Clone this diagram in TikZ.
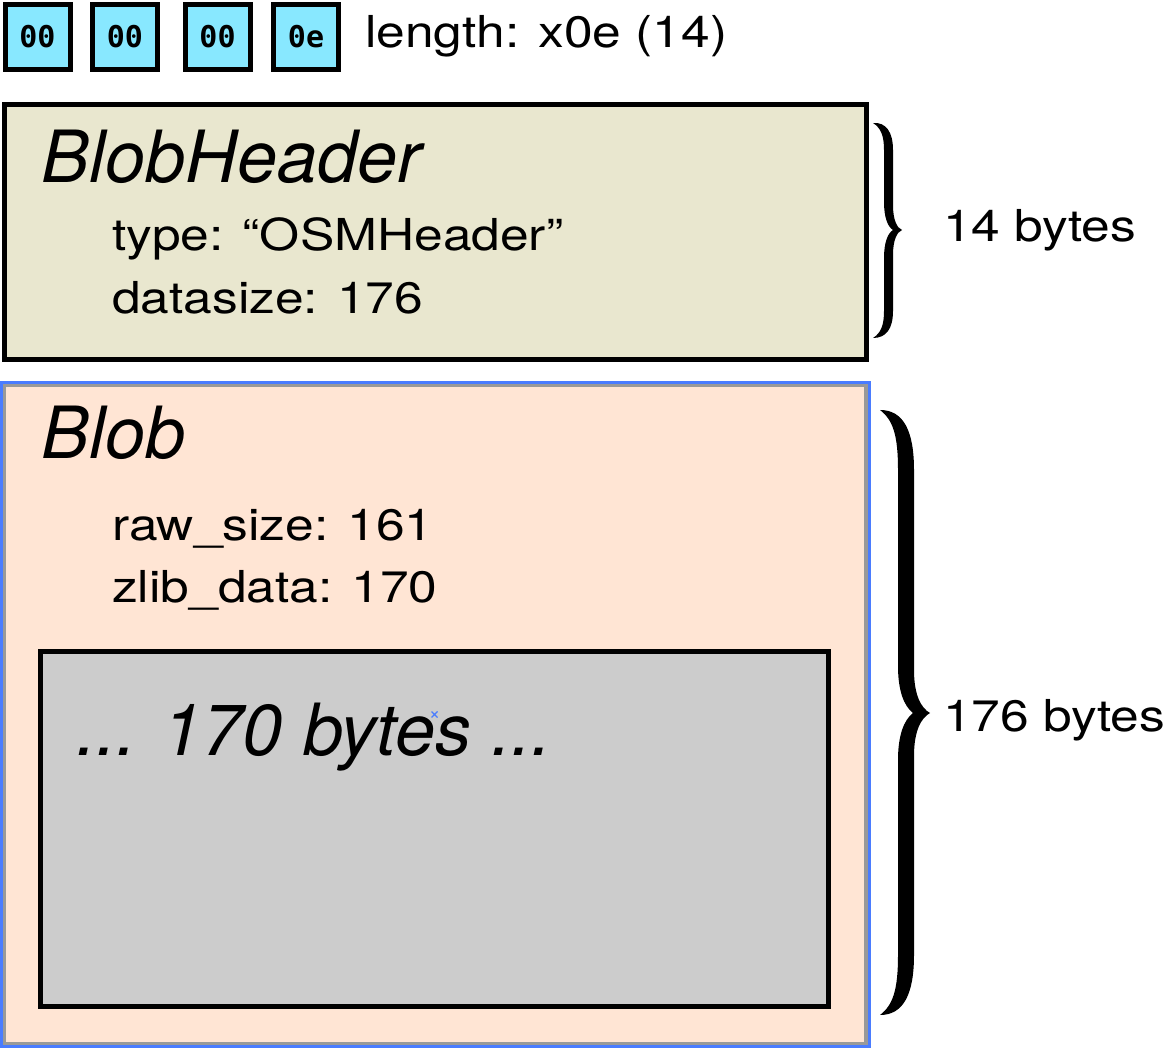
\documentclass[tikz,border=0pt]{standalone}
\usepackage{fontspec}
\setmainfont{TeX Gyre Heros}
\newfontfamily\regf{TeX Gyre Heros}[FakeStretch=1.17]
\newfontfamily\monof{DejaVu Sans Mono}
\definecolor{cyanfill}{HTML}{88E8FF}
\definecolor{beige}{HTML}{E9E7CF}
\definecolor{peach}{HTML}{FFE5D4}
\definecolor{greyfill}{HTML}{CCCCCC}
\definecolor{selblue}{HTML}{4A7CFF}
\tikzset{
  bytebox/.style={draw=black, line width=5pt, fill=cyanfill, minimum width=65pt, minimum height=65pt, inner sep=0pt, font=\monof\bfseries\fontsize{30}{32}\selectfont},
  regtext/.style={anchor=base west, inner sep=0pt, font=\regf\fontsize{44}{50}\selectfont},
  ittext/.style={anchor=base west, inner sep=0pt, font=\itshape\fontsize{72}{80}\selectfont},
  boxline/.style={draw=black, line width=5pt, inner sep=0pt},
  bracefill/.style={fill=black, draw=none}
}
\begin{document}
\begin{tikzpicture}[x=1pt,y=-1pt]
\useasboundingbox (0,0) rectangle (1165,1048);
% byte boxes
\node[bytebox] (b1) at (37.5,37) {00};
\node[bytebox] (b2) at (125,37) {00};
\node[bytebox] (b3) at (217.5,37) {00};
\node[bytebox] (b4) at (306,37) {0e};
\node[regtext] (len) at (365,48) {length: x0e (14)};
% BlobHeader box
\node[boxline, fill=beige, minimum width=862pt, minimum height=255pt] (hdr) at (435.5,232.5) {};
\node[ittext] (hdrt) at (41,183) {BlobHeader};
\node[regtext] (type) at (112,251) {type: “OSMHeader”};
\node[regtext] (dsz) at (112,314) {datasize: 176};
% Blob box
\node[draw=gray!80, line width=5pt, fill=peach, minimum width=863pt, minimum height=659pt, inner sep=0pt] (blob) at (435,714.5) {};
\draw[selblue, line width=3pt] (blob.south west) rectangle (blob.north east);
\node[ittext] (blobt) at (41,458) {Blob};
\node[regtext] (raw) at (112,540) {raw\_size: 161};
\node[regtext] (zlib) at (112,602) {zlib\_data: 170};
% grey data box
\node[boxline, fill=greyfill, minimum width=788pt, minimum height=354.5pt] (data) at (434.5,828.75) {};
\node[ittext] (datat) at (76,755) {... 170 bytes ...};
\draw[selblue, line width=1.2pt] (431.5,711.5) -- (437.5,717.5) (431.5,717.5) -- (437.5,711.5);
% brace 1
\path[bracefill] (873,123) .. controls (886,122) and (893,132) .. (893,150)
  -- (893,205) .. controls (893,220) and (897,228) .. (902,230)
  .. controls (897,232) and (893,240) .. (893,255)
  -- (893,311) .. controls (893,329) and (886,338) .. (873,338)
  .. controls (881,333) and (884,325) .. (884,311)
  -- (884,258) .. controls (884,242) and (888,233) .. (893,230)
  .. controls (888,227) and (884,218) .. (884,202)
  -- (884,150) .. controls (884,136) and (881,128) .. (873,123) -- cycle;
% brace 2
\path[bracefill] (880,410) .. controls (903,410) and (914,430) .. (914,470)
  -- (914,670) .. controls (914,695) and (921,708) .. (930,713)
  .. controls (921,718) and (914,731) .. (914,756)
  -- (914,955) .. controls (914,995) and (903,1015) .. (880,1015)
  .. controls (893,1005) and (898,990) .. (898,955)
  -- (898,760) .. controls (898,735) and (904,720) .. (913,713)
  .. controls (904,706) and (898,691) .. (898,666)
  -- (898,470) .. controls (898,435) and (893,420) .. (880,410) -- cycle;
\node[regtext] (l14) at (943,242) {14 bytes};
\node[regtext] (l176) at (943,731) {176 bytes};
\end{tikzpicture}
\end{document}
